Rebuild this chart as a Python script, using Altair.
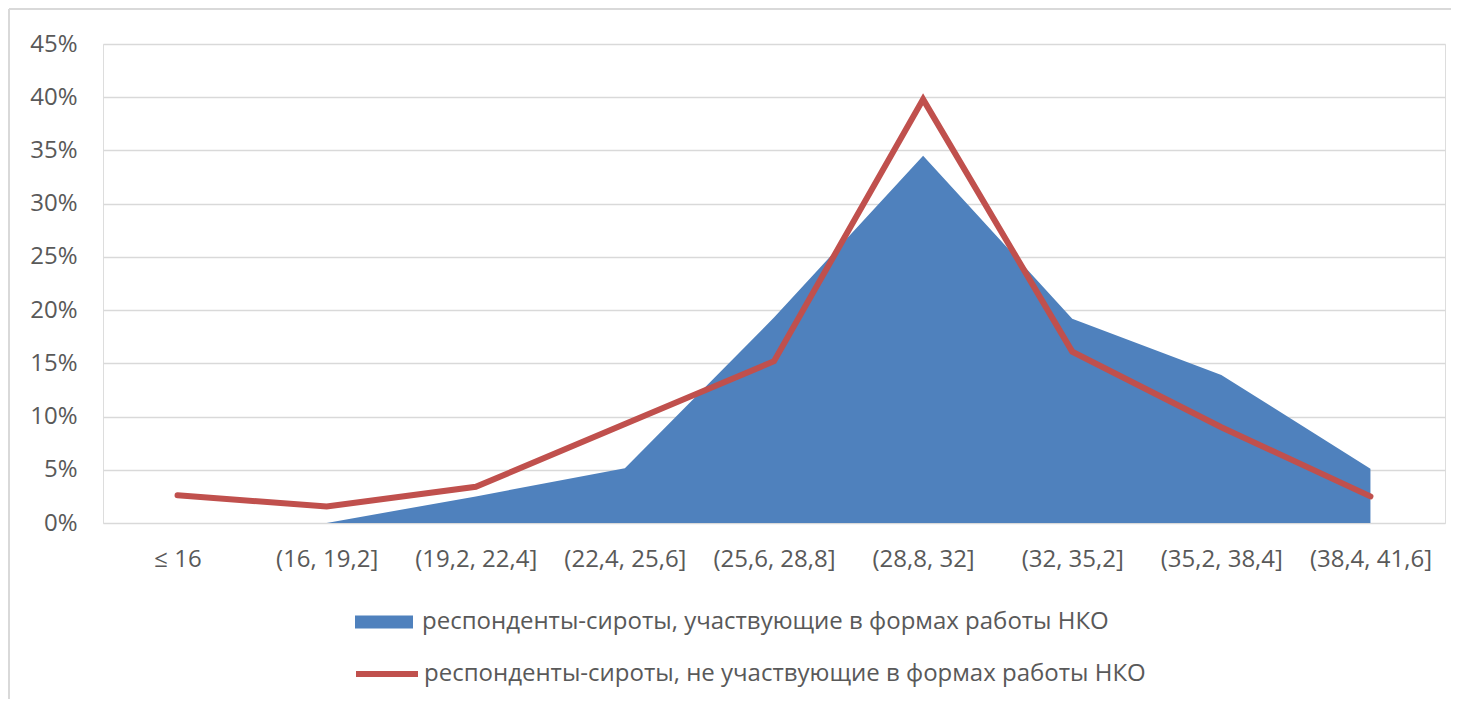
import altair as alt
import pandas as pd

categories = ["≤ 16", "(16, 19,2]", "(19,2, 22,4]", "(22,4, 25,6]", "(25,6, 28,8]",
              "(28,8, 32]", "(32, 35,2]", "(35,2, 38,4]", "(38,4, 41,6]"]
series_ngo = "респонденты-сироты, участвующие в формах работы НКО"
series_non = "респонденты-сироты, не участвующие в формах работы НКО"
values_ngo = [None, 0.0, 0.025, 0.0515, 0.193, 0.345, 0.192, 0.139, 0.051]
values_non = [0.026, 0.0155, 0.034, 0.093, 0.152, 0.398, 0.161, 0.090, 0.025]
y_ticks = [0, 0.05, 0.10, 0.15, 0.20, 0.25, 0.30, 0.35, 0.40, 0.45]

BLUE = "#4F81BD"
RED = "#C0504D"
TXT = "#595959"
FONT = "Open Sans"
FS = 24

df_ngo = pd.DataFrame({"cat": categories, "value": values_ngo, "series": series_ngo})
df_non = pd.DataFrame({"cat": categories, "value": values_non, "series": series_non})

x_enc = alt.X("cat:N", sort=categories,
              scale=alt.Scale(type="point", padding=0.5),
              axis=alt.Axis(title=None, domain=False, ticks=False, grid=False,
                            labelAngle=0, labelPadding=24, labelFontSize=FS,
                            labelColor=TXT, labelFont=FONT))
y_scale = alt.Scale(domain=[0, 0.45], nice=False, zero=True)

area = alt.Chart(df_ngo).mark_area(opacity=1).encode(
    x=x_enc,
    y=alt.Y("value:Q", scale=y_scale,
            axis=alt.Axis(title=None, values=y_ticks, format=".0%", domain=False,
                          ticks=False, labelPadding=26, labelFontSize=FS,
                          labelColor=TXT, labelFont=FONT,
                          gridColor="#D9D9D9", gridWidth=1.5)),
    fill=alt.Fill("series:N",
                  scale=alt.Scale(domain=[series_ngo], range=[BLUE]),
                  legend=alt.Legend(title=None, orient="none", legendX=252, legendY=549,
                                    padding=0,
                                    symbolType="M-1,-0.22H1V0.22H-1Z", symbolSize=3364,
                                    symbolStrokeWidth=0, symbolOpacity=1,
                                    labelOffset=9, labelFontSize=FS, labelColor=TXT,
                                    labelFont=FONT, labelLimit=900)),
)

line = alt.Chart(df_non).mark_line(strokeWidth=6, strokeCap="round", strokeJoin="miter").encode(
    x=alt.X("cat:N", sort=categories),
    y=alt.Y("value:Q", scale=y_scale),
    stroke=alt.Stroke("series:N",
                      scale=alt.Scale(domain=[series_non], range=[RED]),
                      legend=alt.Legend(title=None, orient="none", legendX=250, legendY=596,
                                        padding=0,
                                        symbolType="stroke", symbolSize=3844,
                                        symbolStrokeWidth=6,
                                        labelOffset=3, labelFontSize=FS, labelColor=TXT,
                                        labelFont=FONT, labelLimit=900)),
)

frame_df = pd.DataFrame({"f": [0]})
frame_left = alt.Chart(frame_df).mark_rule(stroke="#D9D9D9", strokeWidth=2).encode(
    x=alt.value(-94), y=alt.value(-35), y2=alt.value(655))
frame_top = alt.Chart(frame_df).mark_rule(stroke="#D9D9D9", strokeWidth=2).encode(
    x=alt.value(-94), x2=alt.value(1348), y=alt.value(-35))

chart = alt.layer(area, line, frame_left, frame_top).resolve_scale(
    fill="independent", stroke="independent"
).properties(
    width=1342, height=479,
    autosize=alt.AutoSizeParams(type="none"),
    padding={"left": 95, "top": 36, "right": 8, "bottom": 178},
).configure_view(stroke=None).configure(background="white")

chart.save("out.html", embed_options={"renderer": "svg", "actions": False})
